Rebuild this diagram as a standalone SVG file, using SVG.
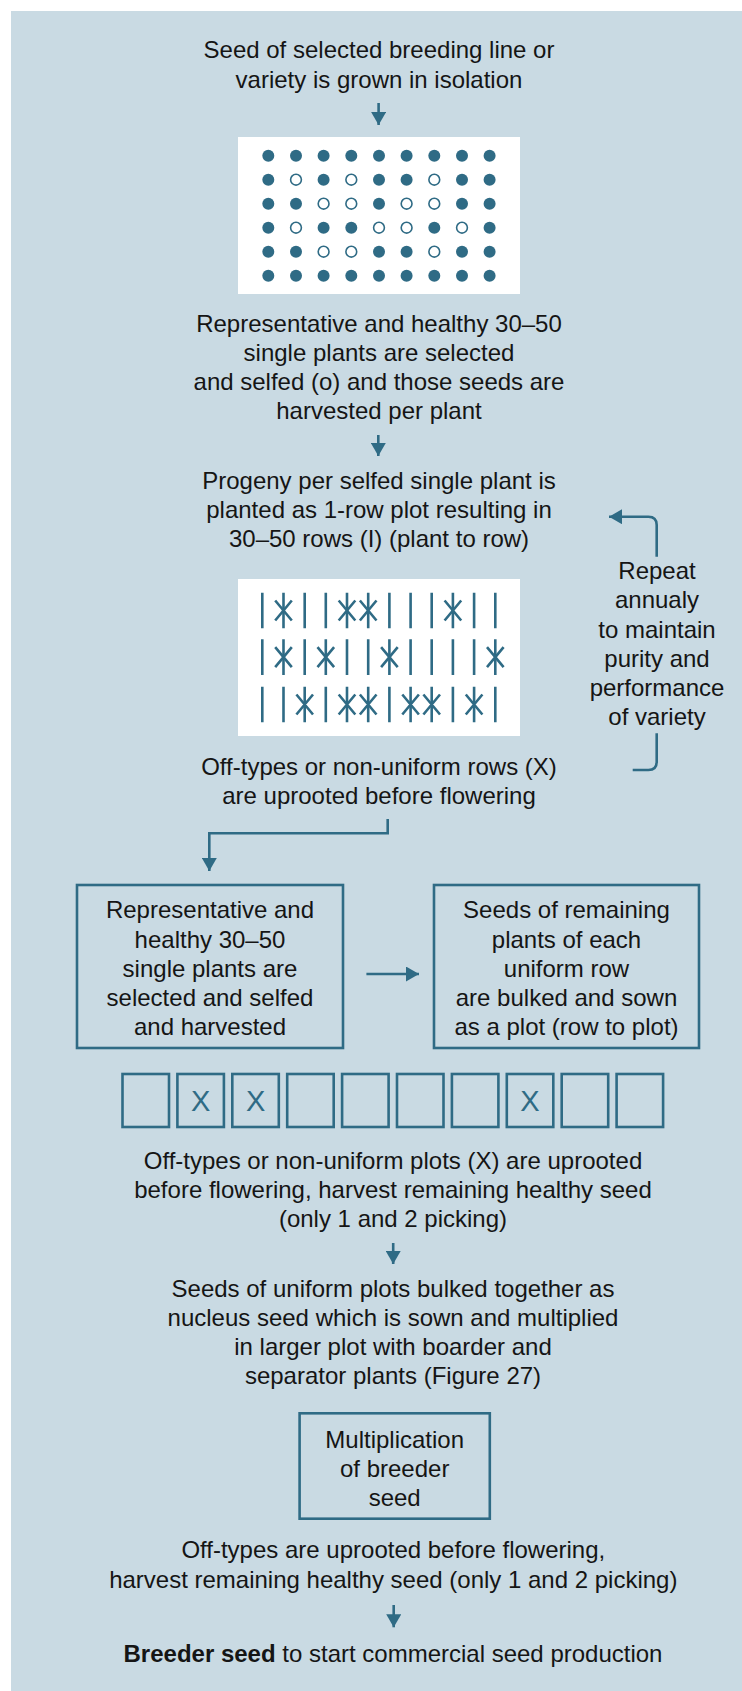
<svg xmlns="http://www.w3.org/2000/svg" width="742" height="1691" viewBox="0 0 742 1691">
<style>
.t{font-family:"Liberation Sans",Arial,sans-serif;font-size:24px;fill:#151515;text-anchor:middle}
.c{stroke:#2f6b85;stroke-width:2.6;fill:none}
.box{stroke:#2f6b85;stroke-width:2.6;fill:none}
.d{fill:#2f6b85}
.h{fill:#fff;stroke:#2f6b85;stroke-width:1.6}
.p{stroke:#2f6b85;stroke-width:2.6;fill:none}
.x{font-family:"Liberation Sans",Arial,sans-serif;font-size:29px;fill:#2f6b85;text-anchor:middle}
</style>
<defs>
<marker id="ah" viewBox="0 0 13 15" refX="13" refY="7.5" markerWidth="13" markerHeight="15" markerUnits="userSpaceOnUse" orient="auto">
<path d="M0,0 L13,7.5 L0,15 z" fill="#2f6b85"/>
</marker>
</defs>
<rect x="11" y="11" width="731" height="1680" fill="#c9dae3"/>

<g id="n-start">
<text class="t" x="379" y="58">Seed of selected breeding line or</text>
<text class="t" x="379" y="88">variety is grown in isolation</text>
</g>

<g id="n-dots">
<rect x="238" y="137" width="282" height="157" fill="#fff"/>
<g id="dotgrid"></g>
<circle class="d" cx="268.3" cy="155.7" r="6"/><circle class="d" cx="296" cy="155.7" r="6"/><circle class="d" cx="323.6" cy="155.7" r="6"/><circle class="d" cx="351.3" cy="155.7" r="6"/><circle class="d" cx="379" cy="155.7" r="6"/><circle class="d" cx="406.6" cy="155.7" r="6"/><circle class="d" cx="434.3" cy="155.7" r="6"/><circle class="d" cx="462" cy="155.7" r="6"/><circle class="d" cx="489.6" cy="155.7" r="6"/>
<circle class="d" cx="268.3" cy="179.7" r="6"/><circle class="h" cx="296" cy="179.7" r="5.4"/><circle class="d" cx="323.6" cy="179.7" r="6"/><circle class="h" cx="351.3" cy="179.7" r="5.4"/><circle class="d" cx="379" cy="179.7" r="6"/><circle class="d" cx="406.6" cy="179.7" r="6"/><circle class="h" cx="434.3" cy="179.7" r="5.4"/><circle class="d" cx="462" cy="179.7" r="6"/><circle class="d" cx="489.6" cy="179.7" r="6"/>
<circle class="d" cx="268.3" cy="203.7" r="6"/><circle class="d" cx="296" cy="203.7" r="6"/><circle class="h" cx="323.6" cy="203.7" r="5.4"/><circle class="h" cx="351.3" cy="203.7" r="5.4"/><circle class="d" cx="379" cy="203.7" r="6"/><circle class="h" cx="406.6" cy="203.7" r="5.4"/><circle class="h" cx="434.3" cy="203.7" r="5.4"/><circle class="d" cx="462" cy="203.7" r="6"/><circle class="d" cx="489.6" cy="203.7" r="6"/>
<circle class="d" cx="268.3" cy="227.7" r="6"/><circle class="h" cx="296" cy="227.7" r="5.4"/><circle class="d" cx="323.6" cy="227.7" r="6"/><circle class="d" cx="351.3" cy="227.7" r="6"/><circle class="h" cx="379" cy="227.7" r="5.4"/><circle class="h" cx="406.6" cy="227.7" r="5.4"/><circle class="d" cx="434.3" cy="227.7" r="6"/><circle class="h" cx="462" cy="227.7" r="5.4"/><circle class="d" cx="489.6" cy="227.7" r="6"/>
<circle class="d" cx="268.3" cy="251.7" r="6"/><circle class="d" cx="296" cy="251.7" r="6"/><circle class="h" cx="323.6" cy="251.7" r="5.4"/><circle class="h" cx="351.3" cy="251.7" r="5.4"/><circle class="d" cx="379" cy="251.7" r="6"/><circle class="d" cx="406.6" cy="251.7" r="6"/><circle class="h" cx="434.3" cy="251.7" r="5.4"/><circle class="d" cx="462" cy="251.7" r="6"/><circle class="d" cx="489.6" cy="251.7" r="6"/>
<circle class="d" cx="268.3" cy="275.7" r="6"/><circle class="d" cx="296" cy="275.7" r="6"/><circle class="d" cx="323.6" cy="275.7" r="6"/><circle class="d" cx="351.3" cy="275.7" r="6"/><circle class="d" cx="379" cy="275.7" r="6"/><circle class="d" cx="406.6" cy="275.7" r="6"/><circle class="d" cx="434.3" cy="275.7" r="6"/><circle class="d" cx="462" cy="275.7" r="6"/><circle class="d" cx="489.6" cy="275.7" r="6"/>
</g>

<g id="n-select">
<text class="t" x="379" y="331.5">Representative and healthy 30–50</text>
<text class="t" x="379" y="360.8">single plants are selected</text>
<text class="t" x="379" y="390">and selfed (o) and those seeds are</text>
<text class="t" x="379" y="419.2">harvested per plant</text>
</g>

<g id="n-progeny">
<text class="t" x="379" y="489">Progeny per selfed single plant is</text>
<text class="t" x="379" y="518">planted as 1-row plot resulting in</text>
<text class="t" x="379" y="547">30–50 rows (I) (plant to row)</text>
</g>

<g id="n-rows">
<rect x="238" y="579" width="282" height="157" fill="#fff"/>
<path class="p" d="M262.3,592.7v35.6M283.5,592.7v35.6M304.7,592.7v35.6M325.8,592.7v35.6M347,592.7v35.6M368.2,592.7v35.6M389.4,592.7v35.6M410.6,592.7v35.6M431.7,592.7v35.6M452.9,592.7v35.6M474.1,592.7v35.6M495.3,592.7v35.6"/>
<path class="p" d="M275.2,600.5l16.6,20M291.8,600.5l-16.6,20M338.7,600.5l16.6,20M355.3,600.5l-16.6,20M359.9,600.5l16.6,20M376.5,600.5l-16.6,20M444.6,600.5l16.6,20M461.2,600.5l-16.6,20"/>
<path class="p" d="M262.3,639.3v35.6M283.5,639.3v35.6M304.7,639.3v35.6M325.8,639.3v35.6M347,639.3v35.6M368.2,639.3v35.6M389.4,639.3v35.6M410.6,639.3v35.6M431.7,639.3v35.6M452.9,639.3v35.6M474.1,639.3v35.6M495.3,639.3v35.6"/>
<path class="p" d="M275.2,647.2l16.6,20M291.8,647.2l-16.6,20M317.5,647.2l16.6,20M334.1,647.2l-16.6,20M381.1,647.2l16.6,20M397.7,647.2l-16.6,20M487,647.2l16.6,20M503.6,647.2l-16.6,20"/>
<path class="p" d="M262.3,686.7v35.6M283.5,686.7v35.6M304.7,686.7v35.6M325.8,686.7v35.6M347,686.7v35.6M368.2,686.7v35.6M389.4,686.7v35.6M410.6,686.7v35.6M431.7,686.7v35.6M452.9,686.7v35.6M474.1,686.7v35.6M495.3,686.7v35.6"/>
<path class="p" d="M296.4,694.5l16.6,20M313,694.5l-16.6,20M338.7,694.5l16.6,20M355.3,694.5l-16.6,20M359.9,694.5l16.6,20M376.5,694.5l-16.6,20M402.3,694.5l16.6,20M418.9,694.5l-16.6,20M423.4,694.5l16.6,20M440,694.5l-16.6,20M465.8,694.5l16.6,20M482.4,694.5l-16.6,20"/>
</g>

<g id="n-offtypes-rows">
<text class="t" x="379" y="775">Off-types or non-uniform rows (X)</text>
<text class="t" x="379" y="803.5">are uprooted before flowering</text>
</g>

<g id="n-repeat">
<text class="t" x="657" y="579.3">Repeat</text>
<text class="t" x="657" y="608.3">annualy</text>
<text class="t" x="657" y="637.5">to maintain</text>
<text class="t" x="657" y="666.7">purity and</text>
<text class="t" x="657" y="695.7">performance</text>
<text class="t" x="657" y="724.5">of variety</text>
</g>

<g id="n-boxA">
<rect class="box" x="77" y="885" width="266" height="163"/>
<text class="t" x="210" y="918.3">Representative and</text>
<text class="t" x="210" y="947.6">healthy 30–50</text>
<text class="t" x="210" y="976.8">single plants are</text>
<text class="t" x="210" y="1006">selected and selfed</text>
<text class="t" x="210" y="1035.2">and harvested</text>
</g>

<g id="n-boxB">
<rect class="box" x="434" y="885" width="265" height="163"/>
<text class="t" x="566.5" y="918.3">Seeds of remaining</text>
<text class="t" x="566.5" y="947.6">plants of each</text>
<text class="t" x="566.5" y="976.8">uniform row</text>
<text class="t" x="566.5" y="1006">are bulked and sown</text>
<text class="t" x="566.5" y="1035.2">as a plot (row to plot)</text>
</g>

<g id="n-plots">
<rect class="box" x="122.5" y="1074" width="46.5" height="53"/>
<rect class="box" x="177.4" y="1074" width="46.5" height="53"/>
<rect class="box" x="232.3" y="1074" width="46.5" height="53"/>
<rect class="box" x="287.2" y="1074" width="46.5" height="53"/>
<rect class="box" x="342.1" y="1074" width="46.5" height="53"/>
<rect class="box" x="397" y="1074" width="46.5" height="53"/>
<rect class="box" x="451.9" y="1074" width="46.5" height="53"/>
<rect class="box" x="506.8" y="1074" width="46.5" height="53"/>
<rect class="box" x="561.7" y="1074" width="46.5" height="53"/>
<rect class="box" x="616.6" y="1074" width="46.5" height="53"/>
<text class="x" x="200.7" y="1111">X</text>
<text class="x" x="255.6" y="1111">X</text>
<text class="x" x="530" y="1111">X</text>
</g>

<g id="n-offtypes-plots">
<text class="t" x="393" y="1169.3">Off-types or non-uniform plots (X) are uprooted</text>
<text class="t" x="393" y="1198.3">before flowering, harvest remaining healthy seed</text>
<text class="t" x="393" y="1227.3">(only 1 and 2 picking)</text>
</g>

<g id="n-nucleus">
<text class="t" x="393" y="1296.7">Seeds of uniform plots bulked together as</text>
<text class="t" x="393" y="1325.8">nucleus seed which is sown and multiplied</text>
<text class="t" x="393" y="1355">in larger plot with boarder and</text>
<text class="t" x="393" y="1384.3">separator plants (Figure 27)</text>
</g>

<g id="n-boxC">
<rect class="box" x="299.6" y="1413.3" width="190.2" height="105.4"/>
<text class="t" x="394.7" y="1447.7">Multiplication</text>
<text class="t" x="394.7" y="1476.7">of breeder</text>
<text class="t" x="394.7" y="1505.7">seed</text>
</g>

<g id="n-offtypes-final">
<text class="t" x="393.3" y="1558.3">Off-types are uprooted before flowering,</text>
<text class="t" x="393.3" y="1588.3">harvest remaining healthy seed (only 1 and 2 picking)</text>
</g>

<g id="n-breeder">
<text class="t" x="393" y="1661.7"><tspan font-weight="bold">Breeder seed</tspan> to start commercial seed production</text>
</g>

<g id="connectors">
<path class="c" d="M378.6,103V125" marker-end="url(#ah)"/>
<path class="c" d="M378.3,435V456" marker-end="url(#ah)"/>
<path class="c" d="M387.7,819V833.3H209.3V871" marker-end="url(#ah)"/>
<path class="c" d="M366.4,974H419" marker-end="url(#ah)"/>
<path class="c" d="M393.2,1243V1264" marker-end="url(#ah)"/>
<path class="c" d="M393.7,1605V1627.3" marker-end="url(#ah)"/>
<path class="c" d="M656.7,556.7V525Q656.7,516.7 648.4,516.7H609" marker-end="url(#ah)"/>
<path class="c" d="M656.7,733.3V761.7Q656.7,770 648.4,770H632.7"/>
</g>
</svg>
